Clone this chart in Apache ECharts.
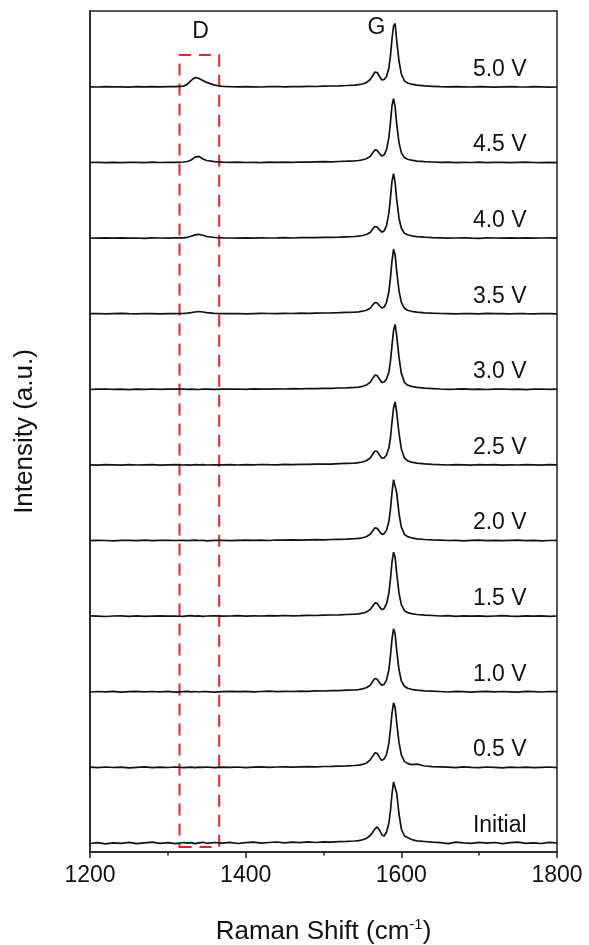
<!DOCTYPE html>
<html><head><meta charset="utf-8">
<script src="https://cdn.jsdelivr.net/npm/echarts@6/dist/echarts.min.js"></script>
<style>html,body{margin:0;padding:0;background:#fff}#c{width:589px;height:945px}</style>
</head><body><div id="c"></div>
<script>
// Raman shift grid (cm-1)
const xs = [1200,1210,1220,1230,1240,1250,1260,1270,1280,1290,1300,
  1310,1320,1325,1330,1335,1340,1345,1350,1360,1370,
  1380,1390,1400,1410,1420,1430,1440,1450,1460,1470,1480,1490,1500,1510,1520,1530,1540,
  1545,1550,1555,1560,1563,1566,1569,1572,1575,1578,1581,1584,1586,1588,1590,1592,1594,1597,1600,1604,1608,1613,1620,1630,1640,
  1650,1660,1670,1680,1690,1700,1710,1720,1730,1740,1750,1760,1770,1780,1790,1800];

const names = ['Initial','0.5 V','1.0 V','1.5 V','2.0 V','2.5 V','3.0 V','3.5 V','4.0 V','4.5 V','5.0 V'];
// vertical stacking offsets (a.u.)
const offsets = [9, 84.6, 160.2, 235.8, 311.4, 387, 462.6, 538.2, 613.8, 689.4, 765];

// intensities above each baseline (a.u.)
const sInitial = [-0.5,0.4,-0.8,0.2,-0.3,0.6,-0.6,0.1,0.8,-0.4,0.3,
  -0.7,0.5,-0.2,0.4,-0.6,0.2,0.7,-0.3,0.5,-0.2,
  0.6,-0.5,0.3,0.9,-0.2,0.5,1.0,0.2,0.8,0.4,1.1,0.5,1.2,0.8,1.4,1.6,2.0,
  2.4,3.2,4.5,7.5,10.5,14,16,13,8,7,11,20,32,49,61,63,50,29,14,7,5.5,3.5,2.2,1.5,0.8,
  0.4,-0.6,0.9,0.1,-0.4,0.7,-0.2,0.5,-0.7,0.3,0.8,-0.3,0.2,-0.5,0.6,0.0];
const s05 = [0.2,-0.3,0.4,-0.1,0.3,-0.4,0.1,0.5,-0.2,0.3,-0.1,
  0.4,-0.2,0.1,0.3,-0.3,0.2,0.0,0.4,-0.2,0.3,
  0.1,0.4,-0.2,0.3,0.5,0.0,0.4,0.6,0.2,0.5,0.8,0.6,0.9,1.0,1.3,1.5,1.9,
  2.3,3.0,4.2,7.5,11,14.5,14,10,7,8.5,13,24,38,54,64.5,60,45,25,12.5,6,4,2.8,3.2,1.4,0.8,
  0.6,0.2,-0.3,0.5,0.1,-0.2,0.4,0.0,-0.4,0.3,-0.1,0.2,-0.3,0.1,0.4,-0.2];
const s10 = [-0.2,0.3,0.0,0.4,-0.3,0.2,0.5,-0.1,0.3,0.0,0.4,
  -0.3,0.2,0.4,0.0,0.3,-0.2,0.3,0.1,-0.3,0.2,
  0.4,0.1,0.5,-0.1,0.3,0.6,0.2,0.5,0.3,0.7,0.5,0.9,0.8,1.1,1.2,1.6,1.8,
  2.2,2.9,4.0,6.5,10,13.3,12.5,9,6.5,7.5,12,22,36,53,63,58,42,22,11,5.5,3.5,2.5,1.6,1.0,0.6,
  0.3,-0.2,0.4,0.1,-0.3,0.2,0.5,-0.1,0.3,0.0,-0.3,0.4,0.1,-0.2,0.3,0.1];
const s15 = [0.3,0.0,-0.3,0.2,0.4,-0.1,0.3,-0.2,0.1,0.4,0.0,
  0.2,-0.1,0.3,0.5,0.0,0.3,-0.2,0.2,0.4,0.0,
  0.2,0.5,0.0,0.4,0.2,0.6,0.3,0.7,0.4,0.6,0.9,0.7,1.0,1.2,1.3,1.7,2.0,
  2.4,3.0,4.1,6.8,10,13.3,12.8,9.3,6.5,7.8,12.5,23,37,54,64,59,43,23,11.5,5.5,3.6,2.6,1.7,1.1,0.7,
  0.2,0.5,-0.1,0.3,0.0,0.4,-0.2,0.2,0.5,0.1,-0.2,0.3,0.0,0.4,-0.1,0.2];
const s20 = [0.0,0.3,0.1,-0.2,0.3,0.2,-0.1,0.4,0.0,0.2,0.3,
  0.1,0.3,-0.1,0.2,0.4,0.1,0.3,-0.2,0.2,0.3,
  0.0,0.3,0.5,0.2,0.4,0.1,0.6,0.4,0.7,0.5,0.8,0.9,0.8,1.1,1.3,1.5,1.9,
  2.2,2.8,3.9,6.3,9.5,12.7,12.3,9,6.2,7.0,10.5,19,31,48,61,62,48,27,13.5,6.2,4.0,2.8,1.8,1.1,0.7,
  0.4,0.1,0.3,-0.2,0.2,0.5,0.0,0.3,-0.1,0.2,0.4,0.0,0.3,-0.2,0.1,0.3];
const s25 = [0.2,-0.1,0.3,0.1,-0.2,0.3,0.0,0.2,0.4,-0.1,0.2,
  0.3,0.0,0.2,-0.1,0.3,0.2,0.4,0.0,0.2,0.1,
  0.3,0.0,0.4,0.2,0.5,0.3,0.2,0.6,0.4,0.7,0.6,0.8,1.0,0.9,1.3,1.6,1.9,
  2.3,3.0,4.2,7.0,10.5,14,13.5,10,6.8,7.2,10,17,27,43,57,63,53,32,16,7,4.2,2.9,1.9,1.2,0.7,
  0.3,0.0,0.4,0.2,-0.1,0.3,0.1,0.4,-0.2,0.2,0.0,0.3,0.1,-0.1,0.3,0.2];
const s30 = [-0.1,0.2,0.4,0.0,0.3,-0.2,0.2,0.1,0.4,0.0,0.3,
  0.2,0.4,0.0,0.3,0.1,-0.1,0.3,0.2,0.0,0.3,
  0.2,0.4,0.1,0.5,0.3,0.2,0.5,0.4,0.7,0.6,0.9,0.7,1.1,1.0,1.4,1.6,2.0,
  2.3,3.1,4.3,7.2,10.8,14.3,13.8,10.2,7,7.4,10.3,17.5,28,44,59,65,54,32,16,7,4.3,3.0,2.0,1.2,0.8,
  0.4,0.1,0.2,0.5,0.0,0.3,-0.1,0.2,0.4,0.1,0.3,-0.2,0.2,0.4,0.0,0.2];
const s35 = [0.1,0.3,-0.1,0.2,0.4,0.1,0.0,0.3,0.2,-0.1,0.2,
  0.2,0.4,0.6,1.1,1.8,2.3,1.8,1.2,0.5,0.2,
  0.1,0.3,0.0,0.2,0.4,0.3,0.1,0.5,0.3,0.6,0.4,0.7,0.8,0.9,1.1,1.4,1.7,
  2.0,2.6,3.6,5.6,8.5,11.3,10.8,8,5.8,6.8,11.5,22,36,53,64.5,59,43,23,11.5,5.5,3.5,2.5,1.6,1.0,0.6,
  0.3,0.1,-0.1,0.3,0.2,0.0,0.4,0.1,0.2,-0.1,0.3,0.1,0.0,0.3,0.2,0.0];
const s40 = [0.2,0.0,0.3,0.1,0.4,0.0,0.2,-0.1,0.3,0.2,0.1,
  0.3,0.4,0.9,1.9,3.3,3.9,2.9,1.7,0.7,0.3,
  0.2,0.0,0.3,0.1,0.4,0.2,0.3,0.5,0.2,0.5,0.6,0.5,0.8,0.9,1.0,1.4,1.7,
  2.0,2.7,3.7,5.8,8.8,11.7,11.2,8.3,6,7.4,12.5,25,40,57,64.5,56,39,20,10,5,3.4,2.4,1.5,1.0,0.6,
  0.3,0.0,0.2,0.4,0.1,-0.1,0.3,0.2,0.0,0.3,0.1,0.4,0.0,0.2,0.3,0.1];
const s45 = [0.1,0.3,0.0,0.2,-0.1,0.3,0.2,0.0,0.4,0.1,0.2,
  0.3,0.6,1.1,2.6,5.5,6.2,3.6,2.1,0.9,0.4,
  0.2,0.4,0.1,0.3,0.0,0.4,0.2,0.5,0.3,0.6,0.4,0.7,0.9,0.8,1.1,1.4,1.8,
  2.1,2.8,3.9,6.2,9.5,12.7,12.2,9,6.5,7.8,13,25,40,57,64,56,39,20,10,5,3.4,2.4,1.5,1.0,0.6,
  0.2,0.4,0.0,0.3,0.1,0.4,-0.1,0.2,0.3,0.0,0.2,0.4,0.1,-0.1,0.2,0.0];
const s50 = [0.2,0.0,0.3,0.1,0.2,-0.1,0.3,0.1,0.4,0.2,0.3,
  0.4,0.9,2.6,6.6,9.5,8.6,6.6,4.6,1.9,0.6,
  0.3,0.1,0.4,0.2,0.0,0.3,0.5,0.2,0.4,0.3,0.6,0.5,0.8,1.0,1.2,1.5,1.9,
  2.3,3.0,4.4,7.5,11,15,14.5,10.5,7,7.5,10.5,19,31,48,61,63.5,47,26,13,6,4,2.8,1.8,1.1,0.7,
  0.3,0.1,0.4,0.2,0.0,0.3,0.1,-0.1,0.2,0.4,0.1,0.0,0.3,0.2,-0.2,0.0];

const spectra = [sInitial, s05, s10, s15, s20, s25, s30, s35, s40, s45, s50];

// x-axis ticks
const xMin = 1200, xMax = 1800, xStep = 200;
// annotations
const peakLabels = [{text: 'D', x: 1342, y: 820}, {text: 'G', x: 1568, y: 824}];
const dBox = [[1315, 5], [1366, 797]];

const FONT = 'Liberation Sans, Arial, sans-serif';
const labelX = 1692, labelDy = 17.5;

const chart = echarts.init(document.getElementById('c'), null, {renderer: 'canvas'});

const series = spectra.map((vals, i) => ({
  type: 'line',
  name: names[i],
  data: xs.map((x, j) => [x, vals[j] + offsets[i]]),
  showSymbol: false,
  symbol: 'none',
  silent: true,
  animation: false,
  z: 3,
  lineStyle: {color: '#111', width: 1.7},
  markPoint: {
    symbol: 'circle', symbolSize: 0, silent: true, animation: false,
    label: {show: true, position: 'right', distance: 0, formatter: names[i],
      color: '#111', fontSize: 23, fontFamily: FONT},
    data: [{coord: [labelX, offsets[i] + labelDy]}]
  }
}));

// D/G labels + dashed box
series.push({
  type: 'line',
  silent: true, animation: false,
  data: [],
  markPoint: {
    symbol: 'circle', symbolSize: 0, silent: true, animation: false,
    label: {show: true, position: 'inside', color: '#111', fontSize: 23, fontFamily: FONT,
      formatter: p => p.name},
    data: peakLabels.map(p => ({name: p.text, coord: [p.x, p.y]}))
  },
  markArea: {
    silent: true, animation: false,
    itemStyle: {color: 'rgba(0,0,0,0)', borderColor: '#e8202e', borderWidth: 2, borderType: [12, 8]},
    data: [[{coord: dBox[0]}, {coord: dBox[1]}]]
  }
});

chart.setOption({
  animation: false,
  backgroundColor: '#fff',
  grid: {left: 90, right: 32, top: 11, bottom: 93, show: true, borderColor: '#222', borderWidth: 1.5,
    backgroundColor: 'transparent', containLabel: false, outerBoundsMode: 'none'},
  xAxis: {
    type: 'value', min: xMin, max: xMax, interval: xStep,
    name: '{n|Raman Shift (cm}{s|-1}{n|)}',
    nameLocation: 'middle', nameGap: 65,
    nameTextStyle: {rich: {
      n: {fontSize: 26, fontFamily: FONT, color: '#111', verticalAlign: 'middle', lineHeight: 30},
      s: {fontSize: 15, fontFamily: FONT, color: '#111', verticalAlign: 'top', lineHeight: 30}
    }},
    axisLine: {show: true, lineStyle: {color: '#222', width: 1.5}},
    axisTick: {show: true, inside: false, length: 6, lineStyle: {color: '#222', width: 1.5}},
    minorTick: {show: true, splitNumber: 2, length: 3.5, lineStyle: {color: '#222', width: 1.5}},
    splitLine: {show: false},
    axisLabel: {fontSize: 23, fontFamily: FONT, color: '#111', margin: 12, formatter: v => String(v)}
  },
  yAxis: {
    type: 'value', min: 0, max: 841,
    name: 'Intensity (a.u.)', nameLocation: 'middle', nameGap: 52,
    nameTextStyle: {fontSize: 26, fontFamily: FONT, color: '#111'},
    axisLine: {show: true, lineStyle: {color: '#222', width: 1.5}},
    axisTick: {show: false}, axisLabel: {show: false}, splitLine: {show: false}
  },
  series: series
});
</script></body></html>
